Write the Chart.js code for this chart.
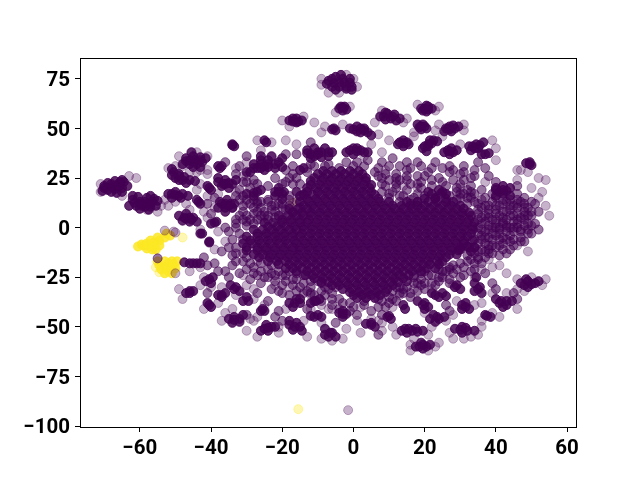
<!DOCTYPE html>
<html><head><meta charset="utf-8">
<script src="https://cdn.jsdelivr.net/npm/chart.js@4/dist/chart.umd.min.js"></script>
<style>html,body{margin:0;padding:0;background:#fff}canvas{display:block}</style>
</head><body><canvas id="c" width="640" height="480"></canvas>
<script>
const xTicks=[-60,-40,-20,0,20,40,60];
const yTicks=[75,50,25,0,-25,-50,-75,-100];
// rows: [y, x, x, ...] densest part of the cloud
const denseRows=[
[28.5,-8.5,-6,-3.5,-1,1.5],
[27,-10,-7.5,-5,-2.5,0,2.5],
[25,-11,-8.5,-6,-3.5,-1,1.5,3.5],
[23.5,-12,-9,-6.5,-4,-1.5,1,3.5],
[21.5,-12,-9.5,-7,-4.5,-2,.5,3,5],
[20,-13,-10.5,-8,-5.5,-3,-.5,2,4.5],
[18,-13,-10,-7.5,-5,-2.5,0,2.5,5],
[16.5,-14,-11.5,-9,-6.5,-4,-1.5,1,3.5,6],
[14.5,-13,-10.5,-8,-5.5,-3,-.5,2,4.5,7,20,23,26],
[13,-15,-12.5,-10,-7.5,-5,-2.5,0,2.5,5,7.5,10,15,18,21,23.5,26,28],
[11,-14,-11.5,-9,-6.5,-4,-1.5,1,3.5,6,8.5,11,13.5,16,18,20,22.5,25,27.5,30],
[9.5,-18,-15.5,-13,-11,-8.5,-6,-3.5,-1,1.5,4,6.5,9,11.5,14,16.5,19,21.5,24,26.5,29,31],
[7.5,-17,-14.5,-12,-9.5,-7,-4.5,-2,.5,3,5.5,8,10.5,13,15.5,18,20.5,23,25.5,28,30.5,32.5],
[6,-21,-18.5,-16,-14,-12,-9.5,-7,-4.5,-2,.5,3,5.5,8,10.5,13,15.5,18,20.5,23,25.5,28,30.5,33],
[4,-20,-17.5,-15,-12.5,-10,-7.5,-5,-2.5,0,2.5,5,7.5,10,12.5,15,17.5,20,22.5,25,27.5,30,32.5],
[2.5,-25,-22.5,-20,-17.5,-15,-13,-10.5,-8,-5.5,-3,-.5,2,4.5,7,9.5,12,14.5,17,19.5,22,24.5,27,29.5,32,34],
[.5,-24,-21.5,-19,-16.5,-14,-11.5,-9,-6.5,-4,-1.5,1,3.5,6,8.5,11,13.5,16,18.5,21,23.5,26,28.5,31,33.5],
[-1,-28,-25.5,-23,-20.5,-18,-16,-14,-11.5,-9,-6.5,-4,-1.5,1,3.5,6,8.5,11,13.5,16,18.5,21,23.5,26,28.5,31,33.5],
[-3,-27,-24.5,-22,-19.5,-17,-14.5,-12,-9.5,-7,-4.5,-2,.5,3,5.5,8,10.5,13,15.5,18,20.5,23,25.5,28,30.5,33],
[-4.5,-30,-27,-24.5,-22,-19.5,-17,-15,-12.5,-10,-7.5,-5,-2.5,0,2.5,5,7.5,10,12.5,15,17.5,20,22.5,25,27.5,30,32],
[-6.5,-29,-26.5,-24,-21.5,-19,-16.5,-14,-11.5,-9,-6.5,-4,-1.5,1,3.5,6,8.5,11,13.5,16,18.5,21,23.5,26,28.5,31,33.5],
[-8,-31,-28.5,-26,-23.5,-21,-18.5,-16,-13.5,-11,-8.5,-6,-3.5,-1,1.5,4,6.5,9,11.5,14,16.5,19,21.5,24,26.5,29,31],
[-10,-30,-27,-24.5,-22,-19.5,-17,-15,-12.5,-10,-7.5,-5,-2.5,0,2.5,5,7.5,10,12.5,15,17.5,20,22.5,25,27.5,30,32.5],
[-11.5,-30,-27,-24.5,-22,-19.5,-17,-15,-12.5,-10,-7.5,-5,-2.5,0,2.5,5,7.5,10,12.5,15,17.5,20,22.5,25,27.5,29.5],
[-13.5,-28,-25.5,-23,-20.5,-18,-15.5,-13,-10.5,-8,-5.5,-3,-.5,2,4.5,7,9.5,12,14.5,17,19.5,22,24.5,27,29],
[-15,-26.5,-23.5,-21,-18.5,-16,-13.5,-11,-8.5,-6,-3.5,-1,1.5,4,6.5,9,11.5,14,16.5,19,21.5,24,26],
[-17,-24,-21.5,-19,-16.5,-14,-11.5,-9,-6.5,-4,-1.5,1,3.5,6,8.5,11,13.5,16,18.5,21,23.5,25],
[-18.5,-21,-18,-15.5,-13,-10.5,-8,-5.5,-3,-.5,2,4.5,7,9.5,12,14.5,17,19.5,21.5,24],
[-20.5,-19,-17,-14.5,-12,-9.5,-7,-4.5,-2,.5,3,5.5,8,10.5,13,15.5,18,20.5,23],
[-22,-16,-13,-10.5,-8,-5.5,-3,-.5,2,4.5,7,9.5,12,14,16.5,19],
[-24,-13.5,-11.5,-9,-6.5,-4,-1.5,1,3.5,6,8.5,11,13,15.5],
[-25.5,-11,-8.5,-6,-3.5,-1,1.5,4,6.5,9,11.5,14],
[-27.5,-9,-7,-4.5,-2,.5,3,5.5,8,10.5,12.5],
[-29,-6,-4,-1.5,1,3.5,6,8.5,11],
[-31,-3,-.5,2,4.5,7,9.5],
[-32.5,-1,1.5,4,6.5,9],
[-34,0,2.5,5,7.5],
[-35.5,1,3.5,6]
];
// tight groups around the main cloud: x,y,x,y,...
const clusterCores=[
-7,74,-5,76,-3,75,-1,73,-6,71,-4,71,-2,70,-.5,71,-4,73,-5.5,73,-2.5,73,-7.5,72.5,-1,75,-3.5,77,-6,75,-2,71,-.5,69.5,-5,69.5,
-4,60,-2.5,61,-2,59.5,-3,59,-3,60.5,-3.5,61,-18,54,-16,55,-14.5,54,-16,53,-17,55,-15.5,53.5,-17,53.5,
7.5,56,9.5,57.5,11,56,13,55,9,54.5,12,54,8.5,56,10.5,55,11.5,57,9,58,19,60,20.5,61.5,22,60,20.5,58.5,20,60,21,59.5,19.5,59,21,61,
18,52,19.5,52,20.5,50,19,49.5,19,51,20,51,18.5,50.5,26.5,50,28,51.5,29.5,51,27.5,48.5,25.5,48.5,27,49.5,28.5,50,27,51,26,50,
-1,50,1,51,3,50,1,48.5,4,48,5,46.5,0,49.5,2,50,2,48,3,49,-6,49.5,-5,49,-5.5,50,
12.5,42,14,44,15.5,42,14,41,13,43,15,43,14,42.5,19.5,40,21,42,22.5,44,23.5,43.5,20.5,38.5,21,41,22,42.5,20,41,21.5,44,
-2,38,0,40,2,39,4,38,0,37,-1,39,1,38.5,3,38,1,40,25.5,38,27.5,40,29,39,27,37,26.5,39,28,38,27,38.5,
32.5,41,34.5,42,36.5,43,33,39,35,40,33.5,41,35.5,41.5,34,40,36,37,38,37.5,37,37,48.5,32.5,49.5,33,50,31.5,49.5,32,
40,19,42,21,44,20,42,17,44,16,40,16,41,18,43,18.5,42,19,40,20,21,18,24,19,26,17,23,15,22,17,24.5,17,25,18,
-70,20,-68,22,-66,22,-64.5,23,-69,19,-67,19.5,-65,20,-66.5,17.5,-68,20.5,-66,20.5,-67,21,-70,21,-65.5,23,-69,22.5,-67,23.5,-65,24,-70.5,18.5,-68,18,-65,18,-63.5,21,
-62,14,-60,12,-58,12,-56.5,13,-55.5,11,-61,11,-58.5,10.5,-56,14.5,-60,13,-58.5,13,-57,12,-59.5,11,-61.5,12.5,-57,10.5,-62,16,-60.5,15.5,-58,15,-57,16,-60,9.5,-57.5,9,-55,13.5,-63,11,
-34,42,-33.5,41,-34,41.5,-47,35,-45,36,-43,34,-46,32,-44,32,-42.5,33,-46,34,-44.5,34,-43,35.5,-45,33,-47,33.5,-45,30.5,-43,30.5,-45.5,38,-41.5,35,-48,32,-37,31,-38,31,-37.5,30,
-50.5,28,-49,27,-48,24,-46,24,-50,25,-47,22.5,-49,26,-47.5,25.5,-49,24,-51,26.5,-51,29.5,-44.5,23.5,
-38,25,-36,24,-34,22,-37,21,-35,20,-38,23,-36,22,-35,22.5,-36.5,22,-33,24,-41,21,-40,19,-40.5,20,-52,17,-50,18,-48,17,-51,15,-48.5,15,-50,16.5,-49,16,-51,17,-46.5,16,-44,14,-43,12,-43.5,13,
-37.5,13,-35.5,14,-33.5,12,-36,10,-34,10,-36,8,-36,12,-34.5,12,-35,11,-37,12,-38,10,-49,6,-47,7,-45,5,-48,3.5,-46,3,-47.5,5,-46,5,-47,4.5,-45.5,4,-44,3,-40,2,-38.5,3,-39,2.5,
-28,32,-26,34,-23,36,-21,33,-24,32,-27,30,-25,29,-22,30,-26,32,-24,34,-22,32,-25,31,-28,30,-24,30.5,-26,30,-26,36,-20,35,-20,30.5,-30,28,-29,28,-25,44,-24.5,43,
-28,17.5,-26,19,-30,17,-28,16,-27,18,-21,20,-19.5,18,-22,16,-20,14.5,-21,18,-20,17,-22,18,
-10,38,-8,40,-12,37,-13,39,-6,38,-9,35.5,-12,35,-7,36,-9,38,-11,36,-7,38,-10,37,-13,37.5,-11,40,-14,30,-15,29,-16,18,-15,16,-43,-3,-42.5,-3,-40.5,-7.5,-40.5,-7,
-47.5,-17.5,-45,-18,-43,-18,-46,-18,-44,-18,-41.5,-27,-40,-28,-39.5,-25,-40.5,-26,-47,-33,-46,-32,-45,-32,-46,-33,-41,-38,-40,-40,-40.5,-39,-38,-34,-36,-33,-37,-35,-37,-34,
-34.5,-29,-33,-30,-32,-32,-33.5,-31,-31,-37,-29.5,-37,-30,-35,-35,-46,-33.5,-45,-32,-46,-34,-48,-32,-47.5,-33.5,-46.5,-31,-44,-26,-42,-25,-42,-25.5,-41,-26,-52,-24,-52,-23,-50,-24.5,-49,-25,-51,-24,-50.5,-22,-50,
-18,-38,-16,-36,-15,-38,-17,-40,-16.5,-38,-15,-36,-18,-49,-16,-48,-15,-50,-17,-51.5,-14.5,-52,-16.5,-50,-18,-47,-11,-37,-9.5,-36,-12,-38,-10.5,-37,-12,-44.5,-10,-44,-9,-45,-11,-45,
-8,-54,-6,-53,-8,-51,-5,-55,-6.5,-53,-7,-55,-4,-43,-2,-43.5,-3,-45,-3,-43.5,-3,-42,5,-49,3.5,-48.5,6,-50,5,-48,13.5,-52,15.5,-51,17.5,-51,19.5,-52,15,-53,16.5,-52,18,-52.5,14.5,-51,
17.5,-60,19.5,-59,21.5,-59,19.5,-61,18.5,-60,20.5,-60,19,-58,28.5,-51,30.5,-50,32,-52,34,-52,30.5,-53,30,-51.5,31.5,-50.5,21.5,-46,23.5,-45,25.5,-45,23,-47.5,24,-46,22.5,-44,
30.5,-39,31.5,-38,32.5,-41,30.5,-41,31.5,-40,37,-44,38.5,-45,37.5,-44.5,40,-36,41.5,-37,43,-39,44.5,-37,42,-40,41,-38,43,-37,47,-28,49,-27,51,-28,49,-30,52,-27,48,-29,50,-28.5,48.5,-26,
34,-28,35.5,-30,34,-32,36,-33,35,-31,34.5,-25,14,-39,14.5,-41,18,-37,20,-38,21,-40,20,-41,19.5,-39,9.5,-45,10.5,-46,10,-44.5,28.5,-30,30,-31,29,-29,22,-33,24,-35,26,-34.5,23,-34,25,-33,
32,-9.5,34,-10,30,-11,33,-12
];
// medium-density scatter
const midPoints=[
-31,8,-28,10,-25,8,-22,11,-30,3,-33,0,-34,-6,-33,-13,-31,-17,-28,-20,-24,-21,-20,-24,-16,-26,-12,-27,-8,-30,-4,-36,-1,-38,3,-39,8,-37,11,-36,14,-31,15,-27,17,-24,20,-22,24,-21,27,-20,
-18,14,-14,17,-24,13,-27,12,-32,14,-19,23,-16,25,-22,25,-30,23,-28,24,-17,31,-11,31,-8,31,-4,30,0,31,3,31,6,28,8,25,9,21,10,17,13,16,16,14,18,22,30,17,29,14,32,12,
35,9,37,6,36,2,37,-2,36,-6,34,-10,32,-14,30,-18,27,-21,24,-25,37,11,39,13,41,11,43,13,45,11,47,13,49,10,46,7,43,8,40,7,38,9,42,5,45,3,48,4,50,6,51,2,49,-1,46,0,43,1,40,2,38,-1,41,-3,44,-4,47,-5,
36,14,39,17,46,17,48,15,36,19,33,21,30,22,34,26,38,26,40,23,46,21,12,27,15,29,18,26,21,28,24,25,27,28,30,27,8,33,11,35,15,33,18,33,23,33,27,31,31,31,35,33,33,25,
-32,31,-36,33,-33,27,-31,23,-29,20,-39,15,-41,12,-40,7,-33,4,-36,0,-30,36,-19,37,-19,29,-17,22,-12,43,-16,37,
-33,-17,-37,-12,-36,-22,-38,-22,-41,-19,-39,-18,-32,-23,-29,-26,-26,-28,-23,-31,-27,-33,-24,-37,-20,-33,-14,-33,-8,-34,-6,-39,-1,-42,1,-44,9,-40,12,-37,16,-33,19,-29,23,-29,27,-26,30,-25,33,-22,36,-18,38,-13,
43,-13,37,-23,39,-28,40,-31,26,-39,27,-42,5,-42,8,-44,-13,-41,-21,-42,-20,-47,-41,-33,-30,-44,-22,-45,-5,-48,7,-54,45,-33,46,-36,52,-1,50,-3,-42,-15,-35,-25,-4,-41,-55,-15.5,
51,12,52,8,47,-7,42,-8,38,-9,
// left shoulder of the cloud
-33,16,-30,14,-27,13,-24,14,-21,12,-18,11,-16,13,-34,10,-31,11,-28,7,-25,6,-22,8,-19,9,-30,6,-27,4,-24,4,-32,6,-33,2,-30,1,-35,-2,-32,-3,-31,-6,-35,-10,-33,-10,-34,-14,-31,-13,-30,-15,-29,-18,-26,-18,-26,-22,-23,-19,-21,-22,-18,-22,-16,-23,-14,-24,-22,-24,-19,-27,-24,-25,-17,-29,-14,-28,-12,-30,-10,-27,-9,-32,-6,-33,-13,-32,-11,-34,-16,-32,
-29,12,-26,10,-23,9,-20,10,-17,8,-15,10,-26,13,-23,11,-31,16,-28,14,-18,16,-20,12,-27,8,-24,6,-29,4,-26,6,-22,5,-31,4,-28,2,-19,-24,-23,-23,-25,-25,-27,-24,-28,-23,-22,-27,-17,-26,-20,-29,-15,-30,-21,-32,-18,-34,-12,-33,-30,-21,-34,-19,
// upper band
-17,27,-13,28,-18,25,-15,22,-20,22,-24,21,-27,22,-32,19,-12,32,-7,32,-2,33,1,33,4,34,7,30,10,31,13,31,16,30,19,31,22,30,25,30,28,29,31,28,34,29,37,30,10,24,13,24,16,22,19,23,22,24,25,23,28,24,31,24,12,20,15,19,18,17,29,20,32,19,34,17,10,15,13,13,16,12,18,13,32,15,34,13,
8,18,11,18,14,16,17,15,20,16,27,16,30,15,8,22,12,22,15,24,19,20,22,21,26,21,29,18,31,17,33,18,7,26,9,27,12,25,15,26,20,26,
// right wing
33,15,35,12,37,15,40,15,42,14,44,14,46,14,48,12,50,13,35,7,38,5,40,9,42,8,44,9,46,10,48,8,50,8,35,4,37,3,39,4,41,6,43,4,45,6,47,5,49,6,35,0,38,1,40,0,42,2,44,0,46,2,48,1,50,1,35,-3,37,-5,39,-3,41,0,43,-2,45,-2,47,-2,49,-3,35,-8,37,-8,39,-6,41,-6,43,-6,45,-6,48,-7,34,-13,36,-11,38,-11,40,-10,42,-11,45,-9,33,-16,35,-15,37,-15,39,-13,41,-14,44,-11,
36,10,38,11,40,11,42,12,44,11,46,12,48,10,36,5,38,7,40,4,42,3,44,6,46,4,48,6,36,-1,39,0,41,-1,43,0,45,0,47,-1,49,2,34,-6,36,-4,38,-5,40,-4,42,-5,44,-7,39,-9,41,-9,37,-12,35,-12,
// lower band
28,-19,31,-20,34,-18,25,-22,28,-23,31,-24,34,-21,21,-24,24,-27,27,-28,19,-26,22,-28,17,-28,15,-30,18,-32,20,-31,13,-33,12,-30,16,-35,10,-35,7,-36,10,-38,7,-40,3,-37,0,-40,-3,-38,-6,-36,-9,-37,-5,-30,-9,-28,-7,-31,
19,-23,22,-24,25,-25,17,-25,15,-27,18,-28,20,-28,13,-30,26,-22,29,-21,32,-17,35,-16,11,-32,14,-33
];
// faint single points and halos
const lightPoints=[
-1.5,-92,55,6,54,24,-58,9,-53,14,-55,8,-71,18,-71,22,-63,26,-61,25,-65,16,-54,11,-49,36,-48,31,-41,36,-41,29,-33,30,-30,33,-26,39,-27,44,-23,43,-19,44,-13,30,-16,42,-14,56,-11,53,-20,54,-18,51,-9,75,-2,77,0,75,1,71,-7,68,-4,68,-9,72,
-1,61,-5,58,8,59,14,53,15,55,6,53,23,59,18,62,24,61,17,48,24,52,25,46,31,49,31,52,23,49,5,42,8,38,3,36,10,44,17,46,30,42,39,44,40,40,40,34,52,25,49,28,47,29,46,24,50,20,53,18,52,15,54,11,46,29,
-3,52,7,47,-9,48,-8,51,-44,38,-50,31,-52,30,-46,28,-43,29,-41,27,-31,26,-28,22,-39,10,-42,8,-41,16,-33,18,-30,12,-43,-1,-38,-2,-39,-11,-36,-7,-31,-24,-28,-31,-18,-30,-22,-29,
-30,-29,-28,-36,-34,-41,-36,-43,-37,-47,-29,-46,-30,-52,-21,-53,-19,-41,-12,-41,-13,-55,-14,-47,-9,-48,-3,-56,-7,-41,1,-47,2,-40,5,-46,7,-47,8,-52,8,-48,11,-50,12,-54,21,-54,22,-50,16,-62,23,-60,24,-58,16,-59,17,-56,21,-62,
27,-53,35,-54,36,-50,31,-56,28,-56,33,-55,34,-39,29,-37,28,-44,26,-47,20,-43,22,-31,17,-31,13,-34,11,-40,25,-24,28,-29,34,-25,36,-38,39,-33,43,-33,39,-43,41,-45,36,-47,46,-41,46,-31,53,-29,54,-26,46,-26,50,-25,48,-32,43,-23,38,-16,36,-21,41,-19,
49,-12,46,-9,39,-20,-9,-56,-6,-57,-2,-51,2,-53,-27,-55,-28,-47,-43,-20,-46,-22,-48,-36,-49,-31,-42,-41,-38,-38,-43,-29,-42,-25,-33,-34,-37,-30,-40,-30,-27,-45,-25,-39,-21,-50,-12,-34,-9,-39,-6,-41,
-21,-5,-24,-14,-27,-17,-26,4,-20,5,9,29,14,21,12,23,18,20,30,20,33,16,37,23,-44,28,-43,22,-44,19,-30,26,-38,17,-41,5,-46,9,-52,11,-50,13,-47,12,-50,-23,-53,-1.5,-50.5,-2,-50,-2.5
];
const yellowCore=[-60.5,-9.5,-59,-9,-59.5,-8.5,-58,-10.5,-58,-8,-58,-9,-56.5,-9,-56.5,-11,-55.5,-11,-56,-7.5,-57,-6.5,-54.5,-6.5,-53,-5,-55,-5,-51.5,-4,-54.5,-9,-52.5,-3,-54.5,-19,-53,-17,-51,-17,-49.5,-17,-53,-20,-51,-20,-52,-22,-54,-21,-50.5,-18.5,-51,-23,-52,-18,-55,-17,-50,-20.5,-53,-23];
const yellowLight=[-55.5,-20,-54.5,-22.5,-48,-5,-15.5,-91.5,-17,12.5];

const toPts=f=>{const o=[];for(let i=0;i<f.length;i+=2)o.push({x:f[i],y:f[i+1]});return o};
const densePts=denseRows.flatMap(r=>r.slice(1).map(x=>({x,y:r[0]})));
const ds=(data,c,r=4.5)=>({data,pointRadius:r,pointBorderWidth:1,pointBackgroundColor:c,pointBorderColor:c,showLine:false,pointHoverRadius:r});
const P=a=>`rgba(68,1,84,${a})`,Y=a=>`rgba(253,231,37,${a})`;
const frame={id:'frame',
 beforeDraw(ch){ // nudge tick text onto the tick centre
  if(ch.$nudged)return;ch.$nudged=true;
  ch.scales.y.getLabelItems().forEach(i=>{i.options.translation=[i.options.translation[0],i.options.translation[1]+2]});
  ch.scales.x.getLabelItems().forEach(i=>{i.options.translation=[i.options.translation[0],i.options.translation[1]+1]});
 },
 afterDatasetsDraw(ch){const{left,top,width,height}=ch.chartArea,x=ch.ctx;x.save();x.strokeStyle='#000';x.lineWidth=1;x.strokeRect(Math.round(left)+.5,Math.round(top)+.5,Math.round(width),Math.round(height));x.restore()}};
const font={family:'Roboto',size:20.5,weight:'bold'};
const minus=v=>String(v).replace('-','\u2212');
new Chart(document.getElementById('c'),{type:'scatter',
data:{datasets:[ds(toPts(clusterCores),P(.85)),ds(densePts,P(.85)),ds(toPts(midPoints),P(.55)),ds(toPts(lightPoints),P(.3)),ds(toPts(yellowCore),Y(.85)),ds(toPts(yellowLight),Y(.35))]},
options:{responsive:false,animation:false,layout:{padding:{top:58,right:64,left:0,bottom:0}},
plugins:{legend:{display:false},tooltip:{enabled:false}},
scales:{
x:{type:'linear',min:-76.8,max:62.5,afterFit(s){s.height=53},afterBuildTicks(s){s.ticks=xTicks.map(value=>({value}))},
 grid:{drawOnChartArea:false,drawTicks:true,tickLength:5,color:'#000'},border:{color:'#000'},
 ticks:{color:'#000',font,padding:4,maxRotation:0,autoSkip:false,callback:minus}},
y:{type:'linear',min:-100.5,max:85.5,afterFit(s){s.width=80},afterBuildTicks(s){s.ticks=yTicks.map(value=>({value}))},
 grid:{drawOnChartArea:false,drawTicks:true,tickLength:5,color:'#000'},border:{color:'#000'},
 ticks:{color:'#000',font,padding:5,autoSkip:false,callback:minus}}
}},plugins:[frame]});
</script></body></html>
